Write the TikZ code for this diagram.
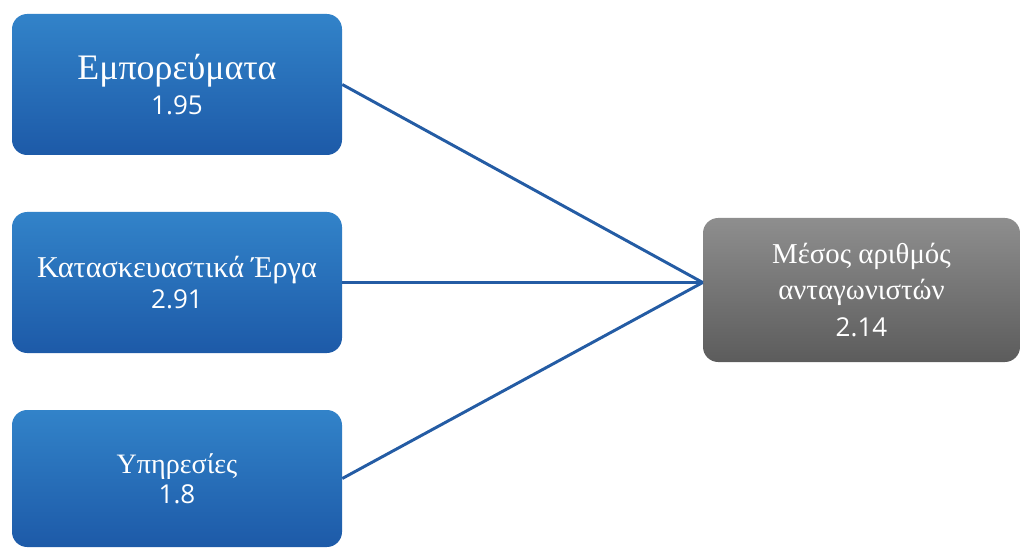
\documentclass[tikz,border=0pt]{standalone}
\usepackage{fontspec}
\setmainfont{Liberation Serif}
\newfontfamily\numfont{Open Sans}
\usetikzlibrary{positioning}
\definecolor{bluetop}{RGB}{50,131,201}
\definecolor{bluebot}{RGB}{29,90,168}
\definecolor{greytop}{RGB}{142,142,142}
\definecolor{greybot}{RGB}{92,92,92}
\definecolor{linkblue}{RGB}{36,92,164}

\tikzset{
  catbox/.style={rectangle, rounded corners=0.38cm, top color=bluetop, bottom color=bluebot,
    minimum width=8.25cm, minimum height=3.525cm, text=white, align=center, inner sep=0pt},
  avgbox/.style={rectangle, rounded corners=0.38cm, top color=greytop, bottom color=greybot,
    minimum width=7.925cm, minimum height=3.6cm, text=white, align=center, inner sep=0pt},
  link/.style={draw=linkblue, line width=2.1pt}
}
\newcommand{\numtext}[1]{{\numfont\fontsize{18.5}{20}\selectfont #1}}

\begin{document}
\begin{tikzpicture}
  \useasboundingbox (0,0) rectangle (25.55,13.675);

  \node[catbox, font=\fontsize{25.5}{25.5}\selectfont] (emp) at (4.425,11.5625)
        {Εμπορεύματα\\\numtext{1.95}};
  \node[catbox, font=\fontsize{21.5}{22.5}\selectfont] (kat) at (4.425,6.6125)
        {Κατασκευαστικά Έργα\\\numtext{2.91}};
  \node[catbox, minimum height=3.425cm, font=\fontsize{20}{21.5}\selectfont] (ypi) at (4.425,1.7125)
        {Υπηρεσίες\\\numtext{1.8}};

  \node[avgbox, font=\fontsize{20.5}{26}\selectfont] (avg) at (21.5375,6.425)
        {Μέσος αριθμός\\ανταγωνιστών\\\numtext{2.14}};

  \coordinate (join) at (avg.west |- kat.east);

  \draw[link] (emp.east) -- (join);
  \draw[link] (kat.east) -- (join);
  \draw[link] (ypi.east) -- (join);
\end{tikzpicture}
\end{document}
